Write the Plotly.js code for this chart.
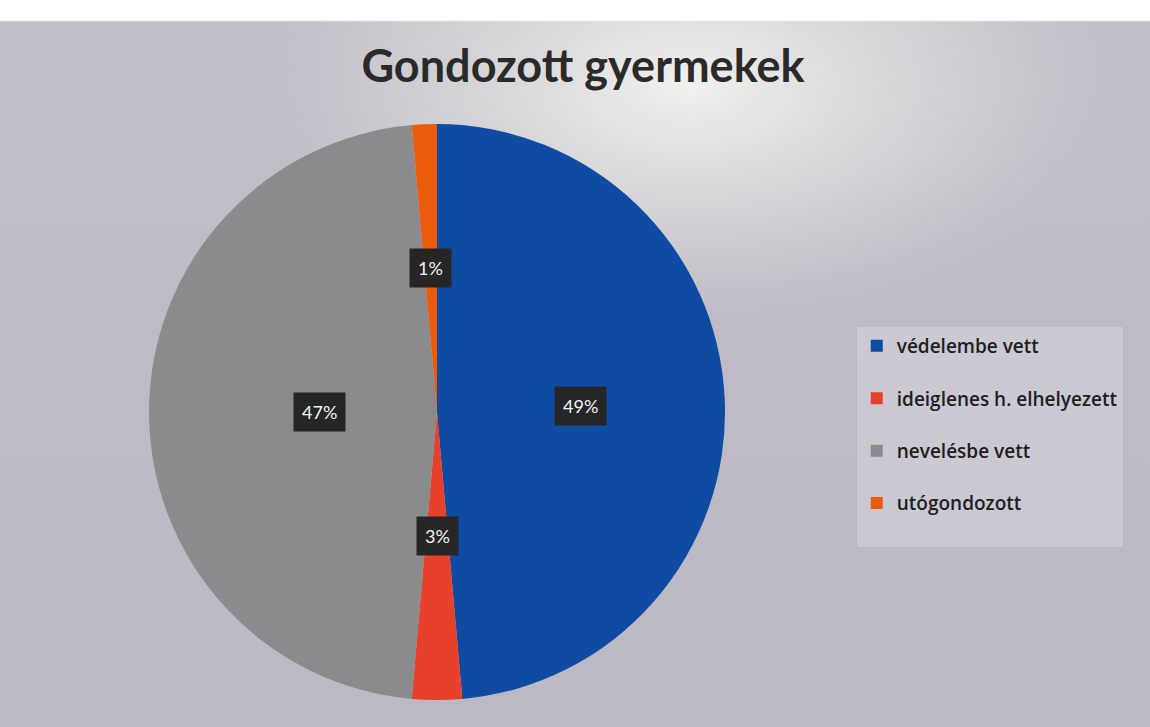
<!DOCTYPE html>
<html>
<head>
<meta charset="utf-8">
<script src="https://cdn.plot.ly/plotly-3.0.1.min.js"></script>
<style>
	html, body { margin: 0; padding: 0; background: #ffffff; }
	#chart {
		position: absolute; left: 0; top: 0; width: 1150px; height: 727px;
		background:
			linear-gradient(to bottom, #ffffff 0px, #ffffff 20px, rgba(255,255,255,0) 22px),
			radial-gradient(ellipse 420px 230px at 60% 12%, rgba(246,246,242,0.9) 0%, rgba(226,225,224,0.7) 45%, rgba(200,198,206,0) 100%),
			linear-gradient(to bottom, #c2c0c9 0%, #bebbc6 45%, #bbb9c3 100%);
	}
</style>
</head>
<body>
<div id="chart"></div>
<script>
const categories = ['védelembe vett', 'ideiglenes h. elhelyezett', 'nevelésbe vett', 'utógondozott'];
const shares = [48.6, 2.8, 47.2, 1.4];
const sliceColors = ['#0f4aa3', '#e8412b', '#8b8b8d', '#ea5b0c'];

const W = 1150, H = 727;
const pieCx = 437, pieCy = 412, pieR = 288;

const domainX = [(pieCx - pieR) / W, (pieCx + pieR) / W];
const domainY = [1 - (pieCy + pieR) / H, 1 - (pieCy - pieR) / H];

const total = shares.reduce((a, b) => a + b, 0);

// data labels sit at half radius on each slice's middle angle
const labelAnnotations = [];
var cum = 0;
for(var i = 0; i < shares.length; i++){
	const mid = (cum + shares[i] / 2) / total * 2 * Math.PI;
	cum += shares[i];
	const px = pieCx + 0.5 * pieR * Math.sin(mid);
	const py = pieCy - 0.5 * pieR * Math.cos(mid);
	labelAnnotations.push({
		xref: 'paper', yref: 'paper',
		x: px / W, y: 1 - py / H,
		text: Math.round(shares[i] / total * 100) + '%',
		showarrow: false,
		bgcolor: '#262626',
		borderpad: 8,
		font: { family: 'Lato, "Open Sans", sans-serif', size: 18, color: '#f2f2f2' }
	});
}

const traces = [{
	type: 'pie',
	// blank second line keeps the legend rows spaced like the original
	labels: categories.map(c => c + '<br> '),
	values: shares,
	sort: false,
	direction: 'clockwise',
	rotation: 0,
	textinfo: 'none',
	hoverinfo: 'label+percent',
	marker: { colors: sliceColors, line: { width: 0 } },
	domain: { x: domainX, y: domainY }
}];

const layout = {
	width: W,
	height: H,
	paper_bgcolor: 'rgba(0,0,0,0)',
	plot_bgcolor: 'rgba(0,0,0,0)',
	margin: { t: 0, l: 0, r: 0, b: 0 },
	title: {
		text: '<b>Gondozott gyermekek</b>',
		x: 0.507, xanchor: 'center',
		y: 1 - 66 / H, yanchor: 'middle',
		font: { family: 'Lato, "Open Sans", sans-serif', size: 45, color: '#2a2a2a' }
	},
	showlegend: true,
	legend: {
		x: 0.745, xanchor: 'left',
		y: 1 - 327 / H, yanchor: 'top',
		valign: 'top',
		bgcolor: 'rgba(212,210,218,0.6)',
		font: { family: '"Open Sans", Lato, sans-serif', size: 19, weight: 600, color: '#1e1e1e' },
		itemclick: false
	},
	annotations: labelAnnotations
};

Plotly.newPlot('chart', traces, layout, { displayModeBar: false, staticPlot: true });
</script>
</body>
</html>
